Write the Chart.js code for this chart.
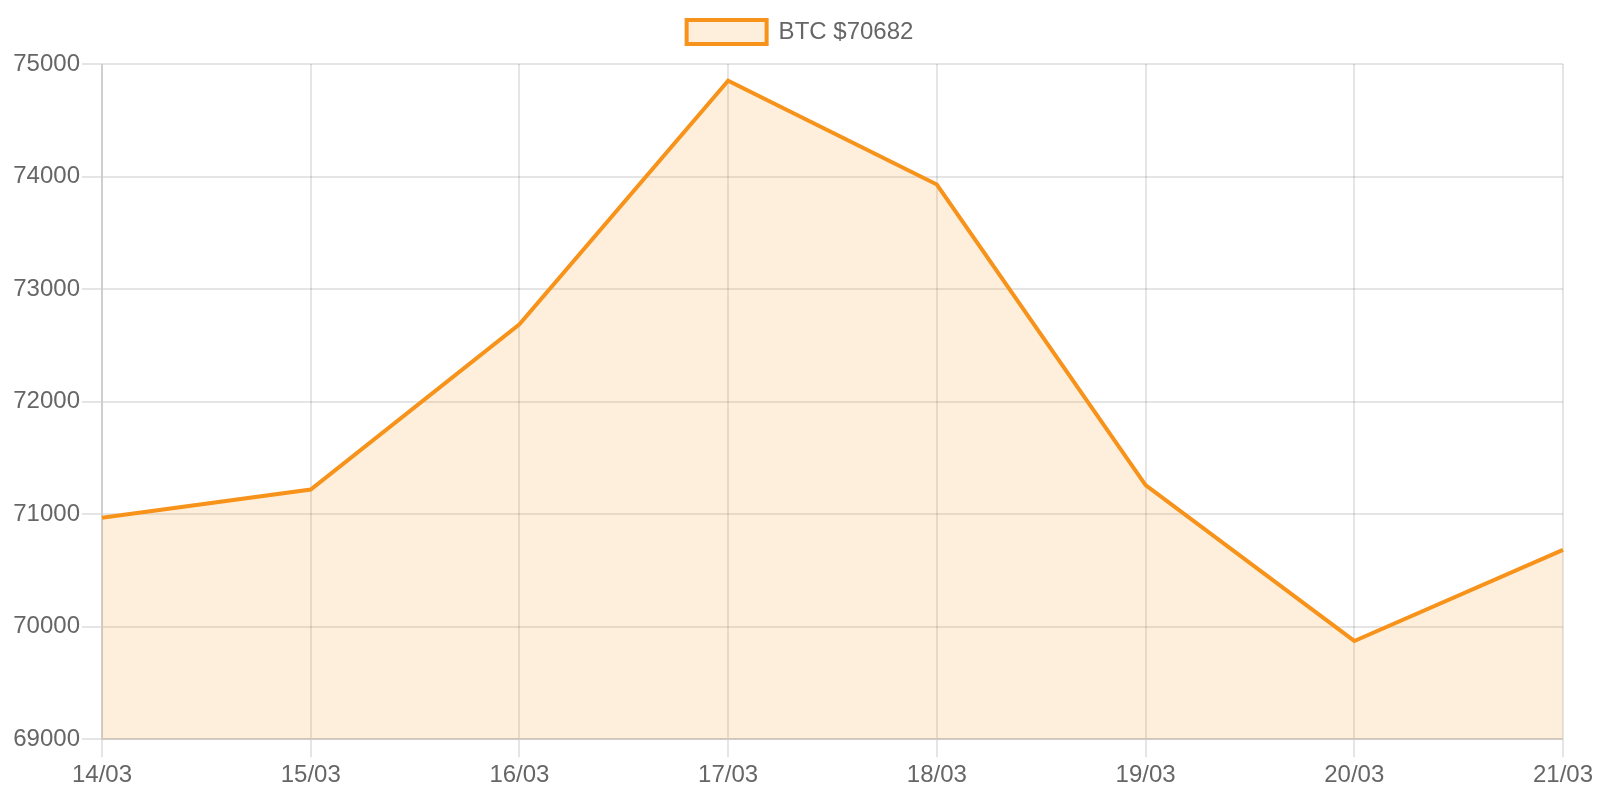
<!DOCTYPE html>
<html>
<head>
<meta charset="utf-8">
<script src="https://cdn.jsdelivr.net/npm/chart.js@4/dist/chart.umd.min.js"></script>
<style>
html, body { margin: 0; padding: 0; background: #fff; }
#wrap { width: 1600px; height: 800px; position: relative; }
</style>
</head>
<body>
<div id="wrap"><canvas id="c"></canvas></div>
<script>
const categories = ['14/03', '15/03', '16/03', '17/03', '18/03', '19/03', '20/03', '21/03'];
const btcPrices = [70967, 71219, 72686, 74852, 73929, 71257, 69873, 70682];
const seriesLabel = 'BTC $70682';
const yMin = 69000;
const yMax = 75000;
const yStep = 1000;

const FONT = "'Liberation Sans', Arial, Helvetica, sans-serif";
Chart.defaults.font.family = FONT;
Chart.defaults.font.size = 24;
Chart.defaults.color = '#666';

const legendSpacer = {
  id: 'legendSpacer',
  beforeLayout(chart) {
    const lg = chart.legend;
    if (lg && !lg._spacerPatched) {
      const orig = lg.fit;
      lg.fit = function () { orig.call(this); this.height += 10; };
      lg._spacerPatched = true;
    }
  }
};

new Chart(document.getElementById('c'), {
  type: 'line',
  data: {
    labels: categories,
    datasets: [{
      label: seriesLabel,
      data: btcPrices,
      borderColor: '#F7931A',
      backgroundColor: 'rgba(247,147,26,0.15)',
      borderWidth: 4,
      fill: 'origin',
      tension: 0,
      pointRadius: 0,
      pointHoverRadius: 0
    }]
  },
  plugins: [legendSpacer],
  options: {
    responsive: true,
    maintainAspectRatio: false,
    devicePixelRatio: 1,
    animation: false,
    layout: { padding: { left: 0, right: 0, top: 0, bottom: 6 } },
    plugins: {
      legend: {
        display: true,
        position: 'top',
        labels: {
          boxWidth: 80,
          boxHeight: 24,
          padding: 20,
          color: '#666',
          font: { size: 24, family: FONT }
        }
      },
      tooltip: { enabled: false }
    },
    scales: {
      x: {
        grid: { color: 'rgba(0,0,0,0.1)', lineWidth: 2, tickLength: 18, tickWidth: 2 },
        border: { color: 'rgba(0,0,0,0.1)', width: 2 },
        ticks: { padding: 4, color: '#666', font: { size: 24, family: FONT }, maxRotation: 0, autoSkip: false },
        afterFit(scale) { scale.paddingRight = 37; }
      },
      y: {
        min: yMin,
        max: yMax,
        grid: { color: 'rgba(0,0,0,0.1)', lineWidth: 2, tickLength: 20, tickWidth: 2 },
        border: { color: 'rgba(0,0,0,0.1)', width: 2 },
        ticks: { stepSize: yStep, padding: 2, color: '#666', font: { size: 24, family: FONT },
                 callback: (v) => String(v) },
        afterFit(scale) { scale.width = 102; }
      }
    }
  }
});
</script>
</body>
</html>
